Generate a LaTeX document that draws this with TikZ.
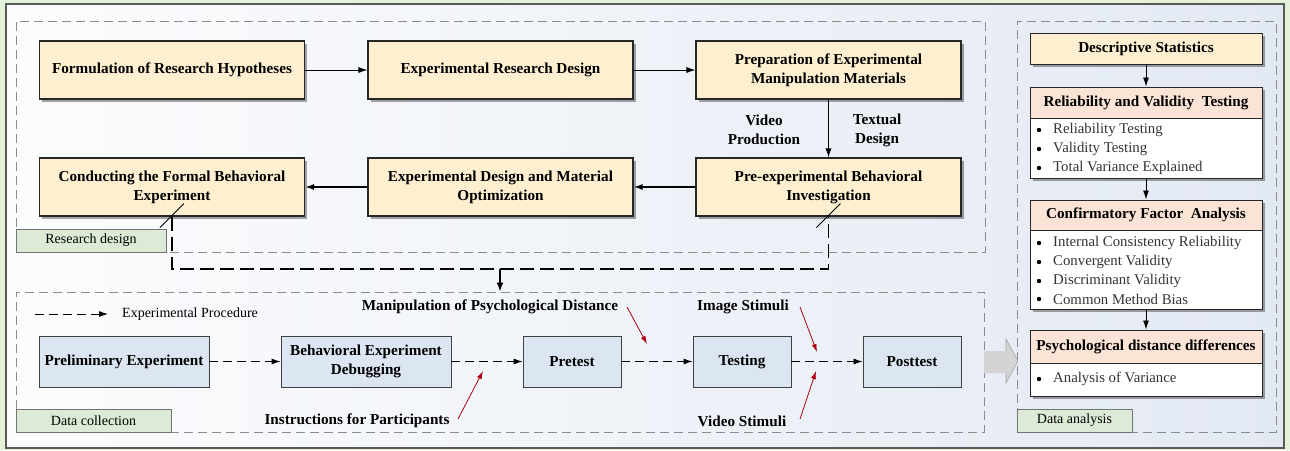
\documentclass[tikz,border=0pt]{standalone}
\usepackage{fontspec}
\setmainfont{Liberation Serif}
\usetikzlibrary{shadows,arrows.meta}

\definecolor{outergreen}{HTML}{E4F2DA}
\definecolor{framegray}{HTML}{5A5A5A}
\definecolor{bgleft}{HTML}{FBFCFD}
\definecolor{bgright}{HTML}{E3E9F3}
\definecolor{cream}{HTML}{FDEFCF}
\definecolor{salmon}{HTML}{FBE4D5}
\definecolor{paleblue}{HTML}{DCE6F2}
\definecolor{taggreen}{HTML}{DDEBD6}
\definecolor{dashgray}{HTML}{8C8C8C}
\definecolor{redarrow}{HTML}{B00010}
\definecolor{arrowgray}{HTML}{D4D4D4}

\tikzset{
  bfont/.style={font=\fontsize{15.2}{19}\selectfont\bfseries},
  rfont/.style={font=\fontsize{14}{18}\selectfont},
  ifont/.style={font=\fontsize{14.8}{18}\selectfont, text=black!80},
  boxshadow/.style={drop shadow={shadow xshift=2.5pt, shadow yshift=-2.5pt, fill=black, opacity=0.35}},
  stagebox/.style={draw=black!85, line width=1.1pt, fill=cream, bfont, align=center,
    inner sep=0pt, minimum width=265pt, minimum height=58pt, boxshadow},
  procbox/.style={draw=black!75, line width=0.9pt, fill=paleblue, bfont, align=center,
    inner sep=0pt, minimum height=51pt},
  headbox/.style={draw=black!85, line width=1pt, fill=salmon, bfont, inner sep=0pt,
    minimum width=232pt, boxshadow},
  listbox/.style={draw=black!85, line width=1pt, fill=white, inner sep=0pt,
    minimum width=232pt, boxshadow},
  topbox/.style={draw=black!85, line width=1pt, fill=cream, bfont, inner sep=0pt,
    minimum width=232pt, minimum height=31pt, boxshadow},
  zone/.style={draw=dashgray, line width=1pt, dash pattern=on 9pt off 5pt, inner sep=0pt},
  tag/.style={draw=black!55, line width=0.8pt, fill=taggreen, rfont, inner sep=0pt, minimum height=23pt},
  flow/.style={-{Latex[length=9pt,width=6pt]}, line width=0.9pt, black},
  flowthick/.style={-{Latex[length=9pt,width=6pt]}, line width=1.5pt, black},
  procflow/.style={-{Latex[length=9pt,width=6pt]}, line width=0.9pt, black, dash pattern=on 9pt off 5pt},
  linkflow/.style={line width=1.5pt, black, dash pattern=on 14pt off 6pt},
  cue/.style={-{Latex[length=8pt,width=5pt]}, line width=0.8pt, redarrow},
  note/.style={bfont, inner sep=1pt},
  item/.style={ifont, anchor=west, inner sep=0pt},
}

\begin{document}
\begin{tikzpicture}[x=1pt,y=-1pt]
\useasboundingbox (0,0) rectangle (1290,450);

% page background and outer frame
\fill[outergreen] (0,0) rectangle (1290,450);
\shade[left color=bgleft, right color=bgright] (6,4) rectangle (1284,448);
\draw[framegray, line width=1.5pt] (6,4) rectangle (1284,448);

% dashed zones
\node[zone, minimum width=969pt, minimum height=231pt] (rd) at (500.5,136.5) {};
\node[zone, minimum width=968pt, minimum height=140pt] (dc) at (500,362) {};
\node[zone, minimum width=259pt, minimum height=411pt] (da) at (1146.5,226.5) {};

% research design stages
\node[stagebox] (h1) at (172,70) {Formulation of Research Hypotheses};
\node[stagebox] (h2) at (500.5,70) {Experimental Research Design};
\node[stagebox] (h3) at (828.5,70) {Preparation of Experimental\\Manipulation Materials};
\node[stagebox] (h4) at (172,187) {Conducting the Formal Behavioral\\Experiment};
\node[stagebox] (h5) at (500.5,187) {Experimental Design and Material\\Optimization};
\node[stagebox] (h6) at (828.5,187) {Pre-experimental Behavioral\\Investigation};

\draw[flow] (h1) -- (h2);
\draw[flow] (h2) -- (h3);
\draw[flow] (h3) -- (h6);
\draw[flowthick] (h6) -- (h5);
\draw[flowthick] (h5) -- (h4);

\node[note, align=center] (vp) at (764,130) {Video\\Production};
\node[note, align=center] (td) at (877,130) {Textual\\Design};

% zone labels
\node[tag, minimum width=150pt] (tagrd) at (91,240.5) {Research design};

% link from research design to data collection
\coordinate (jl) at (172,269);
\coordinate (jm) at (500,269);
\draw[linkflow] (h4.south) |- (jl) -- (jm) -| (h6.south);
\draw[-{Latex[length=9pt,width=7pt]}, line width=1.5pt] (jm) -- (jm |- dc.north);
\draw[line width=0.9pt] ([xshift=-12pt,yshift=-11pt]h4.south) -- ([xshift=12pt,yshift=13pt]h4.south);
\draw[line width=0.9pt] ([xshift=-12pt,yshift=-11pt]h6.south) -- ([xshift=12pt,yshift=13pt]h6.south);

% data collection
\coordinate (lg1) at (35,314);
\coordinate (lg2) at (108,314);
\draw[procflow] (lg1) -- (lg2);
\node[rfont, anchor=west, inner sep=0pt] (lgt) at (122,314) {Experimental Procedure};

\node[procbox, minimum width=170pt] (p1) at (124,361.5) {Preliminary Experiment};
\node[procbox, minimum width=170pt] (p2) at (366,361.5) {Behavioral Experiment\\Debugging};
\node[procbox, minimum width=98pt] (p3) at (572,361.5) {Pretest};
\node[procbox, minimum width=98pt] (p4) at (742,361.5) {Testing};
\node[procbox, minimum width=98pt] (p5) at (912,361.5) {Posttest};

\draw[procflow] (p1) -- (p2);
\draw[procflow] (p2) -- (p3);
\draw[procflow] (p3) -- (p4);
\draw[procflow] (p4) -- (p5);

\node[note] (ins) at (357,421) {Instructions for Participants};
\node[note] (man) at (490,307) {Manipulation of Psychological Distance};
\node[note] (img) at (743,307) {Image Stimuli};
\node[note] (vid) at (742,421) {Video Stimuli};

\coordinate (ins0) at (458,419);  \coordinate (ins1) at (483,371);
\coordinate (man0) at (627,307);  \coordinate (man1) at (647,344);
\coordinate (img0) at (800,307);  \coordinate (img1) at (817,352);
\coordinate (vid0) at (800,419);  \coordinate (vid1) at (816,371);
\draw[cue] (ins0) -- (ins1);
\draw[cue] (man0) -- (man1);
\draw[cue] (img0) -- (img1);
\draw[cue] (vid0) -- (vid1);

\node[tag, minimum width=155pt] (tagdc) at (93.5,420.5) {Data collection};

% hand-over arrow into the analysis zone
\fill[arrowgray] (984,351) -- (1006,351) -- (1006,339) -- (1018,361) -- (1006,383) -- (1006,373) -- (984,373) -- cycle;
\draw[black!35, line width=0.6pt] (1006,351) -- (1006,339) -- (1018,361) -- (1006,383) -- (1006,373);

% data analysis
\node[topbox] (a0) at (1146,48.5) {Descriptive Statistics};

\node[headbox, minimum height=31pt] (a1h) at (1146,102.5) {Reliability and Validity\ \ Testing};
\node[listbox, minimum height=60pt] (a1l) at (1146,148) {};
\node[headbox, minimum height=30pt] (a2h) at (1146,215) {Confirmatory Factor\ \ Analysis};
\node[listbox, minimum height=79pt] (a2l) at (1146,269.5) {};
\node[headbox, minimum height=33pt] (a3h) at (1146,346.5) {Psychological distance differences};
\node[listbox, minimum height=33pt] (a3l) at (1146,379.5) {};

\foreach \yy/\txt [count=\k] in {130/Reliability Testing, 149/Validity Testing, 168/Total Variance Explained,
    243/Internal Consistency Reliability, 262/Convergent Validity, 281/Discriminant Validity, 299/Common Method Bias,
    379/Analysis of Variance}{
  \fill[black] (1039,\yy) circle (2.2pt);
  \node[item] (it\k) at (1053,\yy) {\txt};
}

\draw[flow] (a0) -- (a1h);
\draw[flow] (a1l) -- (a2h);
\draw[flow] (a2l) -- (a3h);

\node[tag, minimum width=115pt] (tagda) at (1074.5,420.5) {Data analysis};
\end{tikzpicture}
\end{document}
